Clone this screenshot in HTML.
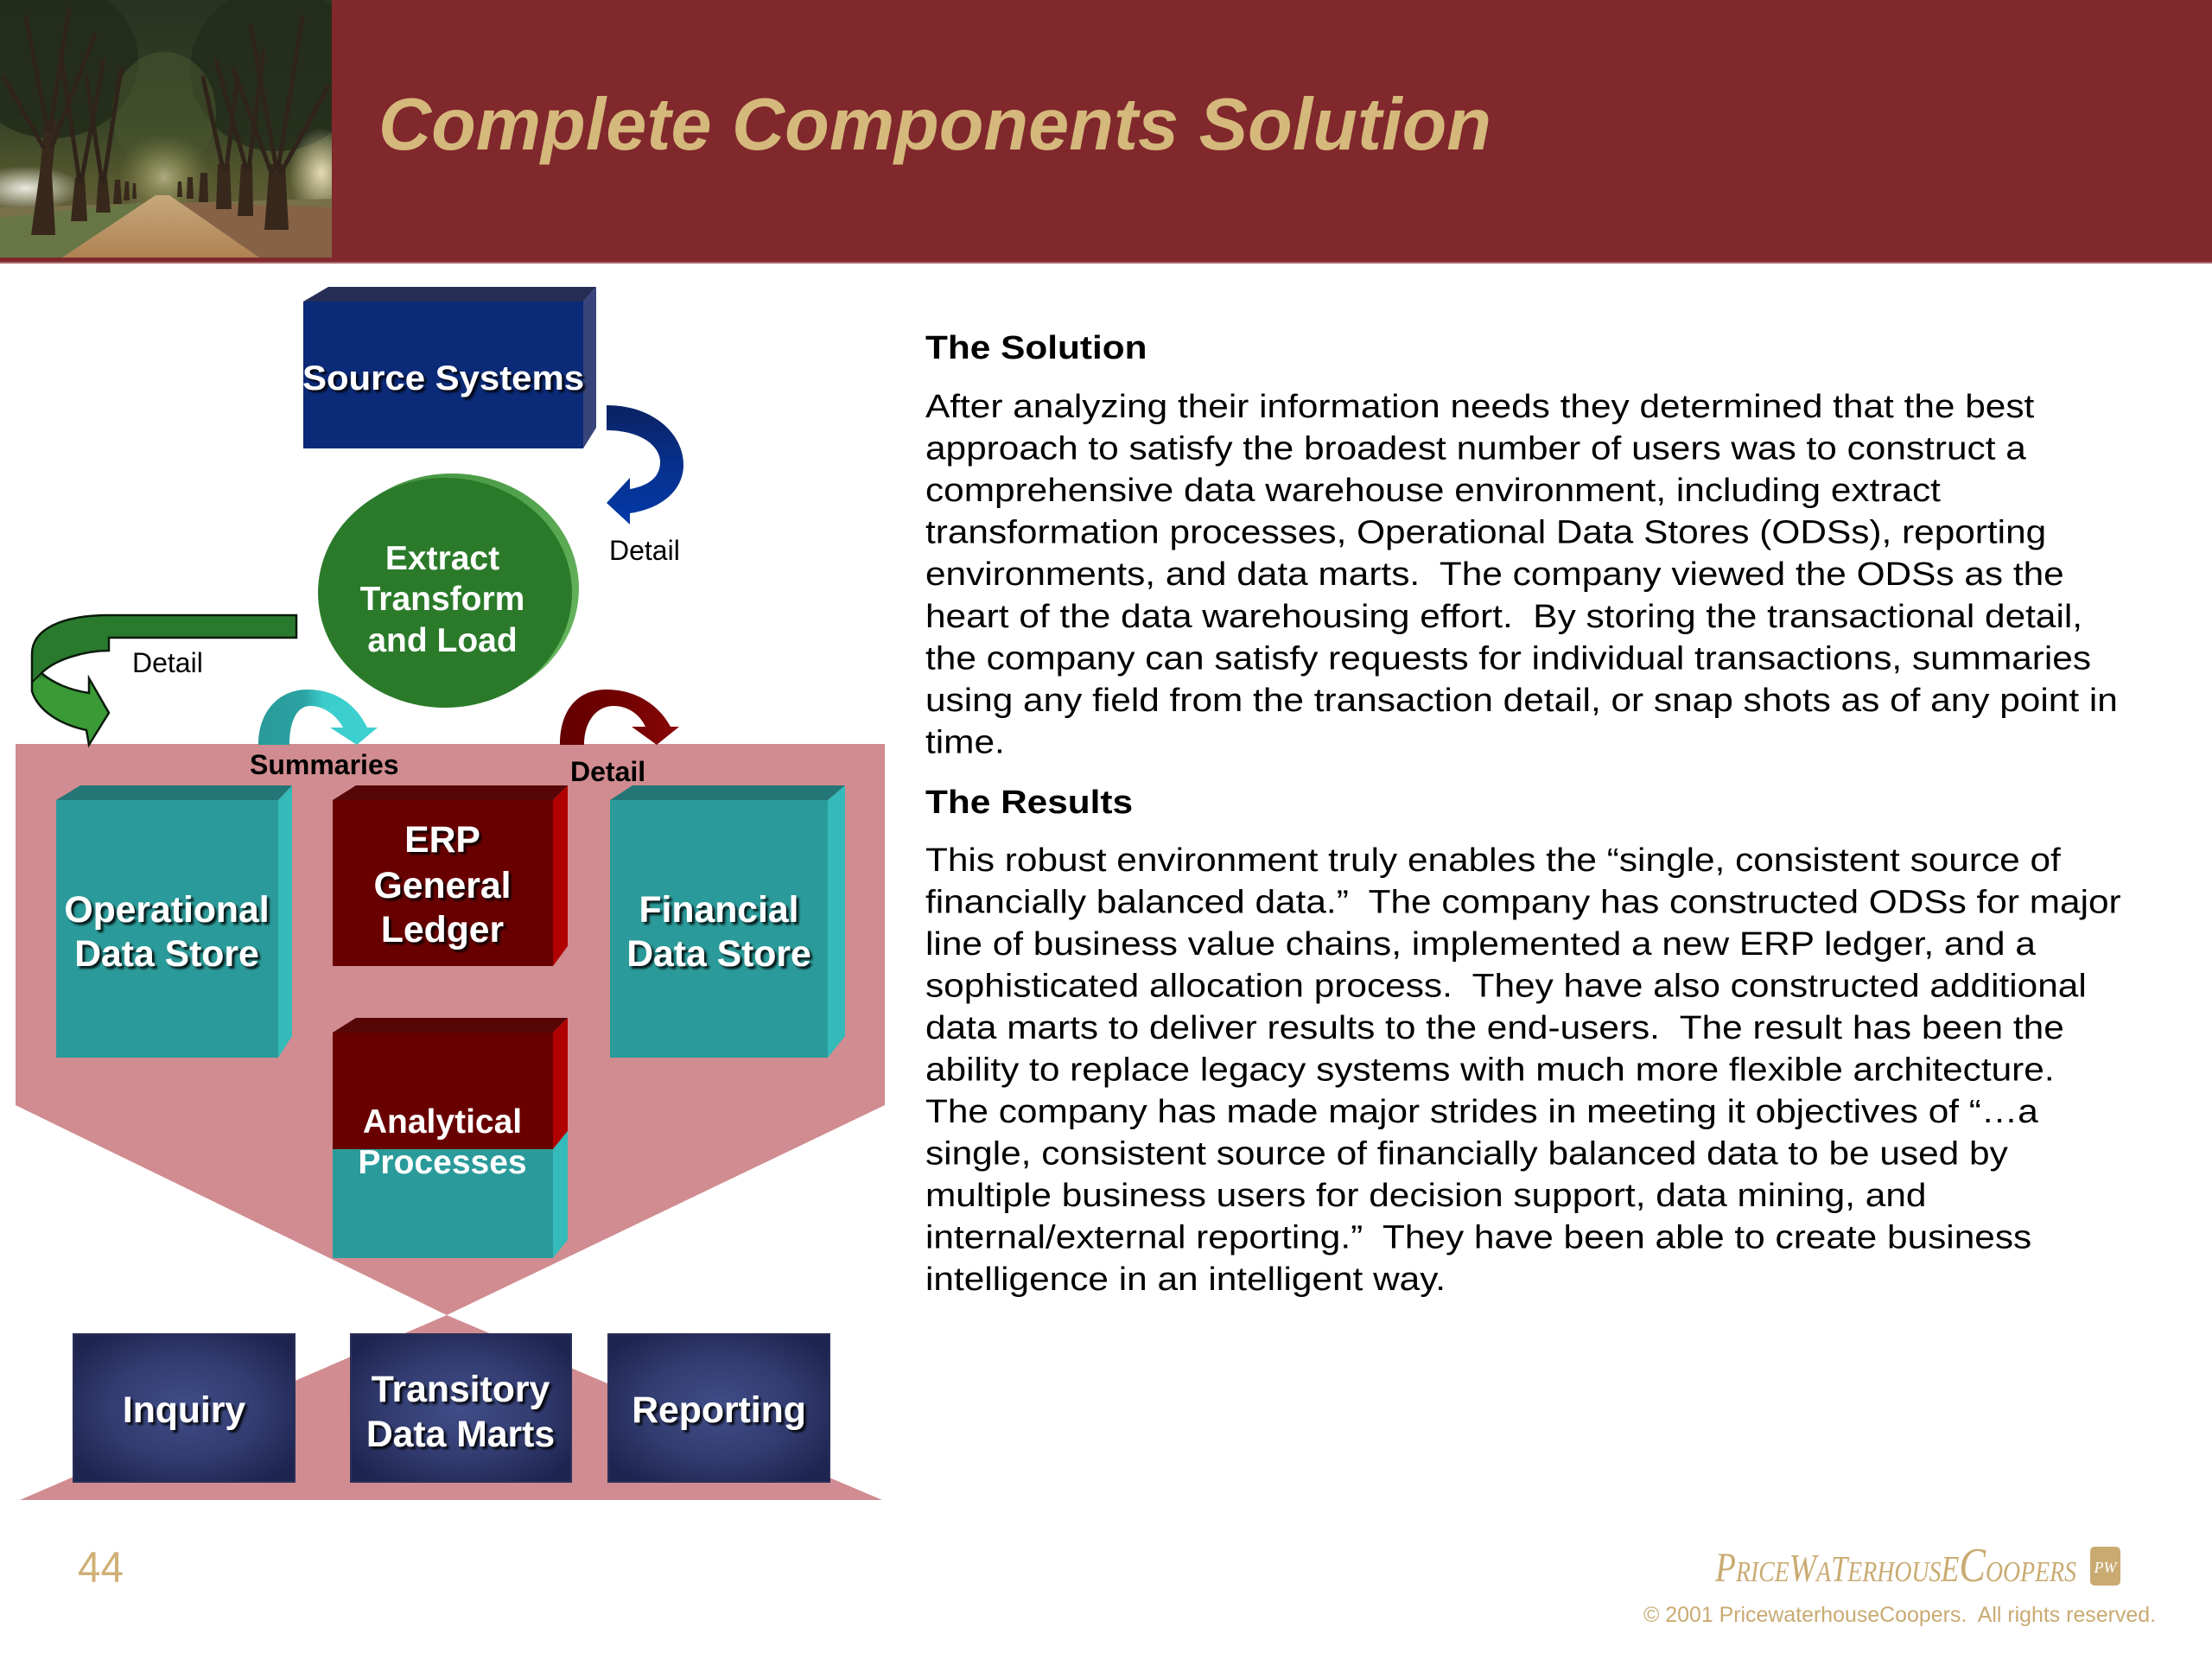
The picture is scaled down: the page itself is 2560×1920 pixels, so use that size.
<!DOCTYPE html>
<html><head><meta charset="utf-8">
<style>
html,body{margin:0;padding:0;background:#fff;}
svg{display:block;}
</style></head><body>
<svg width="2560" height="1920" viewBox="0 0 2560 1920" xmlns="http://www.w3.org/2000/svg" font-family="'Liberation Sans', Arial, sans-serif">
<defs>
  <filter id="sh" x="-10%" y="-40%" width="130%" height="190%">
    <feDropShadow dx="3" dy="3" stdDeviation="1.3" flood-color="#000" flood-opacity="0.85"/>
  </filter>
  <radialGradient id="navy" cx="50%" cy="50%" r="62%">
    <stop offset="0" stop-color="#404d88"/>
    <stop offset="0.55" stop-color="#323c70"/>
    <stop offset="1" stop-color="#1e2450"/>
  </radialGradient>
  <linearGradient id="garr" x1="0" y1="712" x2="0" y2="862" gradientUnits="userSpaceOnUse">
    <stop offset="0" stop-color="#2a7a2e"/>
    <stop offset="0.47" stop-color="#2a7a2e"/>
    <stop offset="0.50" stop-color="#3a9b36"/>
    <stop offset="1" stop-color="#3a9b36"/>
  </linearGradient>
  <linearGradient id="barr" x1="0" y1="469" x2="0" y2="607" gradientUnits="userSpaceOnUse">
    <stop offset="0" stop-color="#0b2262"/>
    <stop offset="0.5" stop-color="#06308c"/>
    <stop offset="1" stop-color="#0439a8"/>
  </linearGradient>
  <linearGradient id="carr" x1="299" y1="0" x2="437" y2="0" gradientUnits="userSpaceOnUse">
    <stop offset="0" stop-color="#2a9a9a"/>
    <stop offset="0.38" stop-color="#2ba2a2"/>
    <stop offset="0.55" stop-color="#3ccccc"/>
    <stop offset="1" stop-color="#3ed2d2"/>
  </linearGradient>
  <linearGradient id="rarr" x1="648" y1="0" x2="786" y2="0" gradientUnits="userSpaceOnUse">
    <stop offset="0" stop-color="#640000"/>
    <stop offset="0.5" stop-color="#700000"/>
    <stop offset="1" stop-color="#8a0808"/>
  </linearGradient>
  <linearGradient id="rim" x1="0" y1="0" x2="1" y2="1">
    <stop offset="0" stop-color="#3f8f3c"/>
    <stop offset="1" stop-color="#6cba62"/>
  </linearGradient>
  <linearGradient id="sky" x1="0" y1="0" x2="0" y2="1">
    <stop offset="0" stop-color="#283320"/>
    <stop offset="0.45" stop-color="#354126"/>
    <stop offset="0.7" stop-color="#55582f"/>
    <stop offset="1" stop-color="#74654a"/>
  </linearGradient>
  <radialGradient id="haze" cx="50%" cy="50%" r="50%">
    <stop offset="0" stop-color="#b8b489" stop-opacity="0.9"/>
    <stop offset="0.5" stop-color="#98985e" stop-opacity="0.5"/>
    <stop offset="1" stop-color="#7a7a4a" stop-opacity="0"/>
  </radialGradient>
  <radialGradient id="lite" cx="50%" cy="50%" r="50%">
    <stop offset="0" stop-color="#ecebe0" stop-opacity="1"/>
    <stop offset="1" stop-color="#ecebe0" stop-opacity="0"/>
  </radialGradient>
  <radialGradient id="lite2" cx="50%" cy="50%" r="50%">
    <stop offset="0" stop-color="#e6dcb4" stop-opacity="1"/>
    <stop offset="1" stop-color="#e6dcb4" stop-opacity="0"/>
  </radialGradient>
  <linearGradient id="road" x1="0" y1="0" x2="0" y2="1">
    <stop offset="0" stop-color="#c6a87c"/>
    <stop offset="1" stop-color="#b08252"/>
  </linearGradient>
  <clipPath id="pc"><rect x="0" y="0" width="384" height="298"/></clipPath>
</defs>

<!-- Header -->
<rect x="0" y="0" width="2560" height="303" fill="#80282c"/>
<rect x="0" y="303" width="2560" height="2" fill="#a8686b"/>

<!-- Photo -->
<g clip-path="url(#pc)">
  <rect x="0" y="0" width="384" height="298" fill="url(#sky)"/>
  <ellipse cx="60" cy="70" rx="100" ry="90" fill="#222c19" opacity="0.85"/>
  <ellipse cx="320" cy="80" rx="100" ry="95" fill="#232d1a" opacity="0.85"/>
  <ellipse cx="190" cy="130" rx="60" ry="70" fill="#4c5a30" opacity="0.5"/>
  <ellipse cx="190" cy="205" rx="55" ry="50" fill="url(#haze)"/>
  <ellipse cx="30" cy="218" rx="65" ry="26" fill="url(#lite)"/>
  <ellipse cx="372" cy="200" rx="38" ry="52" fill="url(#lite2)"/>
  <polygon points="0,240 384,230 384,298 0,298" fill="#78704a"/>
  <polygon points="0,252 165,234 95,298 0,298" fill="#687645"/>
  <polygon points="210,234 384,240 384,298 285,298" fill="#866246"/>
  <polygon points="180,226 196,226 300,298 72,298" fill="url(#road)"/>
  <g fill="#37281b">
    <polygon points="36,272 64,272 60,200 66,140 52,140 46,200"/>
    <polygon points="82,256 101,256 98,205 87,205"/>
    <polygon points="111,246 128,246 124,205 114,205"/>
    <polygon points="131,236 141,236 139,208 133,208"/>
    <polygon points="143,232 150,232 149,210 145,210"/>
    <polygon points="153,230 158,230 157,212 154,212"/>
    <polygon points="306,266 334,266 330,190 312,190"/>
    <polygon points="275,250 293,250 292,190 279,190"/>
    <polygon points="250,242 268,242 266,190 252,190"/>
    <polygon points="230,234 241,234 240,200 232,200"/>
    <polygon points="216,230 224,230 223,205 217,205"/>
    <polygon points="205,228 211,228 210,210 206,210"/>
  </g>
  <g stroke="#30241a" stroke-width="5" fill="none" stroke-linecap="round">
    <path d="M55,150 L30,20 M58,150 L80,10 M60,170 L110,40 M50,170 L5,90"/>
    <path d="M92,210 L70,60 M94,210 L120,70 M120,210 L140,80 M118,210 L100,90"/>
    <path d="M320,195 L290,30 M322,195 L350,20 M325,200 L380,100 M314,200 L270,80"/>
    <path d="M285,195 L250,70 M288,195 L305,60 M258,195 L235,90 M262,195 L275,90"/>
  </g>
</g>

<!-- Title -->
<text x="438" y="173" font-size="85.3" font-weight="bold" font-style="italic" fill="#d5b87c" textLength="1288" lengthAdjust="spacingAndGlyphs">Complete Components Solution</text>

<!-- Pink backgrounds -->
<polygon points="18,861 1024,861 1024,1279 517,1522 18,1279" fill="#d08c90"/>
<polygon points="517,1522 1021,1736 23,1736" fill="#d08c90"/>

<!-- Source Systems box -->
<rect x="351" y="349" width="324" height="170" fill="#0b2a78"/>
<polygon points="351,349 380,332 690,332 675,349" fill="#262d55"/>
<polygon points="675,349 690,332 690,495 675,519" fill="#38457a"/>
<text x="513" y="451" text-anchor="middle" font-size="40" font-weight="bold" fill="#fff" filter="url(#sh)" textLength="326" lengthAdjust="spacingAndGlyphs">Source Systems</text>

<!-- Blue arrow -->
<path d="M702,469 C757,469 791,503 791,538 C791,566 768,588 729,594 L729,607 L702,582 L729,553 L729,566 C752,562 764,551 764,535 C764,515 740,498 702,498 Z" fill="url(#barr)"/>
<text x="705" y="648" font-size="32" fill="#000">Detail</text>

<!-- ETL circle -->
<ellipse cx="523" cy="681" rx="147" ry="133" fill="url(#rim)"/>
<ellipse cx="515" cy="686" rx="147" ry="133" fill="#2a7a2a"/>
<g font-size="39" font-weight="bold" fill="#fff" text-anchor="middle">
  <text x="512" y="659">Extract</text>
  <text x="512" y="706">Transform</text>
  <text x="512" y="754">and Load</text>
</g>

<!-- Green arrow -->
<path d="M343,712 L343,738 L126,738 L126,753 C98,753 64,763 48,779 C62,791 82,799 103,802 L103,785 L126,825 L103,862 L100,845 C68,838 44,822 37,800 L37,757 C37,728 72,712 126,712 Z" fill="url(#garr)" stroke="#0a1a0a" stroke-width="2.5" stroke-linejoin="miter"/>
<path d="M48,779 C44,783 40,786 37,790" stroke="#0a1a0a" stroke-width="2" fill="none"/>
<text x="153" y="778" font-size="32" fill="#000">Detail</text>

<!-- Cyan arrow -->
<path d="M299,862 C299,824 322,798 356,798 C388,798 412,815 425,842 L437,842 L413,862 L382,842 L397,842 C389,827 374,817 359,817 C344,817 335,834 335,862 Z" fill="url(#carr)"/>
<!-- Red arrow -->
<path d="M648,862 C648,822 668,798 702,798 C735,798 762,815 776,841 L786,841 L760,862 L731,841 L747,841 C740,826 726,817 710,817 C691,817 676,834 676,862 Z" fill="url(#rarr)"/>

<text x="289" y="896" font-size="32" font-weight="bold" fill="#000">Summaries</text>
<text x="660" y="904" font-size="32" font-weight="bold" fill="#000">Detail</text>

<!-- Operational Data Store -->
<rect x="65" y="926" width="257" height="298" fill="#2a9b9a"/>
<polygon points="65,926 93,909 338,909 322,926" fill="#247676"/>
<polygon points="322,926 338,909 338,1199 322,1224" fill="#35b9b9"/>
<g font-size="42.7" font-weight="bold" fill="#fff" text-anchor="middle" filter="url(#sh)">
  <text x="193" y="1067">Operational</text>
  <text x="193" y="1118">Data Store</text>
</g>

<!-- ERP General Ledger -->
<rect x="385" y="926" width="255" height="192" fill="#690000"/>
<polygon points="385,926 412,909 657,909 640,926" fill="#560606"/>
<polygon points="640,926 657,909 657,1095 640,1118" fill="#b00000"/>
<g font-size="42.7" font-weight="bold" fill="#fff" text-anchor="middle" filter="url(#sh)">
  <text x="512" y="986">ERP</text>
  <text x="512" y="1039">General</text>
  <text x="512" y="1090">Ledger</text>
</g>

<!-- Financial Data Store -->
<rect x="706" y="926" width="252" height="298" fill="#2a9b9a"/>
<polygon points="706,926 732,909 978,909 958,926" fill="#247676"/>
<polygon points="958,926 978,909 978,1199 958,1224" fill="#35b9b9"/>
<g font-size="42.7" font-weight="bold" fill="#fff" text-anchor="middle" filter="url(#sh)">
  <text x="832" y="1067">Financial</text>
  <text x="832" y="1118">Data Store</text>
</g>

<!-- Analytical Processes -->
<rect x="385" y="1195" width="255" height="135" fill="#690000"/>
<rect x="385" y="1330" width="255" height="126" fill="#2a9b9a"/>
<polygon points="385,1195 412,1178 657,1178 640,1195" fill="#560606"/>
<polygon points="640,1195 657,1178 657,1309 640,1330" fill="#b00000"/>
<polygon points="640,1330 657,1309 657,1435 640,1456" fill="#35b9b9"/>
<g font-size="39" font-weight="bold" fill="#fff" text-anchor="middle">
  <text x="512" y="1311">Analytical</text>
  <text x="512" y="1358">Processes</text>
</g>

<!-- Bottom boxes -->
<rect x="85" y="1544" width="256" height="171" fill="url(#navy)" stroke="#2a3058" stroke-width="2"/>
<rect x="406" y="1544" width="255" height="171" fill="url(#navy)" stroke="#2a3058" stroke-width="2"/>
<rect x="704" y="1544" width="256" height="171" fill="url(#navy)" stroke="#2a3058" stroke-width="2"/>
<g font-size="42.7" font-weight="bold" fill="#fff" text-anchor="middle" filter="url(#sh)">
  <text x="213" y="1646">Inquiry</text>
  <text x="533" y="1622">Transitory</text>
  <text x="533" y="1674">Data Marts</text>
  <text x="832" y="1646">Reporting</text>
</g>

<!-- Right text -->
<g transform="translate(1071,0) scale(1.115,1) translate(-1071,0)" font-size="38" fill="#000" style="white-space:pre">
  <text x="1071" y="415" font-weight="bold">The Solution</text>
  <text x="1071" y="483">After analyzing their information needs they determined that the best</text>
  <text x="1071" y="531.5">approach to satisfy the broadest number of users was to construct a</text>
  <text x="1071" y="580">comprehensive data warehouse environment, including extract</text>
  <text x="1071" y="628.6">transformation processes, Operational Data Stores (ODSs), reporting</text>
  <text x="1071" y="677.2">environments, and data marts.&#160; The company viewed the ODSs as the</text>
  <text x="1071" y="725.8">heart of the data warehousing effort.&#160; By storing the transactional detail,</text>
  <text x="1071" y="774.3">the company can satisfy requests for individual transactions, summaries</text>
  <text x="1071" y="822.9">using any field from the transaction detail, or snap shots as of any point in</text>
  <text x="1071" y="871.4">time.</text>

  <text x="1071" y="941" font-weight="bold">The Results</text>
  <text x="1071" y="1008">This robust environment truly enables the “single, consistent source of</text>
  <text x="1071" y="1056.5">financially balanced data.”&#160; The company has constructed ODSs for major</text>
  <text x="1071" y="1105">line of business value chains, implemented a new ERP ledger, and a</text>
  <text x="1071" y="1153.5">sophisticated allocation process.&#160; They have also constructed additional</text>
  <text x="1071" y="1202">data marts to deliver results to the end-users.&#160; The result has been the</text>
  <text x="1071" y="1250.5">ability to replace legacy systems with much more flexible architecture.</text>
  <text x="1071" y="1299">The company has made major strides in meeting it objectives of “…a</text>
  <text x="1071" y="1347.5">single, consistent source of financially balanced data to be used by</text>
  <text x="1071" y="1396">multiple business users for decision support, data mining, and</text>
  <text x="1071" y="1444.5">internal/external reporting.”&#160; They have been able to create business</text>
  <text x="1071" y="1493">intelligence in an intelligent way.</text>
</g>

<!-- Footer -->
<text x="90" y="1831" font-size="50" fill="#d0b078" textLength="53" lengthAdjust="spacingAndGlyphs">44</text>
<text x="1985" y="1830" font-family="'Liberation Serif', serif" font-style="italic" fill="#c9ab72" font-size="34" textLength="418" lengthAdjust="spacingAndGlyphs"><tspan font-size="48">P</tspan>RICE<tspan font-size="46">W</tspan>A<tspan font-size="42">T</tspan>ERHOUS<tspan font-size="42">E</tspan><tspan font-size="56">C</tspan>OOPERS</text>
<rect x="2419" y="1790" width="35" height="45" rx="5" fill="#c9ab72"/>
<text x="2436.5" y="1820" text-anchor="middle" font-family="'Liberation Serif', serif" font-style="italic" font-size="18" fill="#fff">PW</text>
<text x="1902" y="1877" font-size="25" fill="#c9ab72" textLength="593" lengthAdjust="spacingAndGlyphs">© 2001 PricewaterhouseCoopers.&#160; All rights reserved.</text>
</svg>
</body></html>
